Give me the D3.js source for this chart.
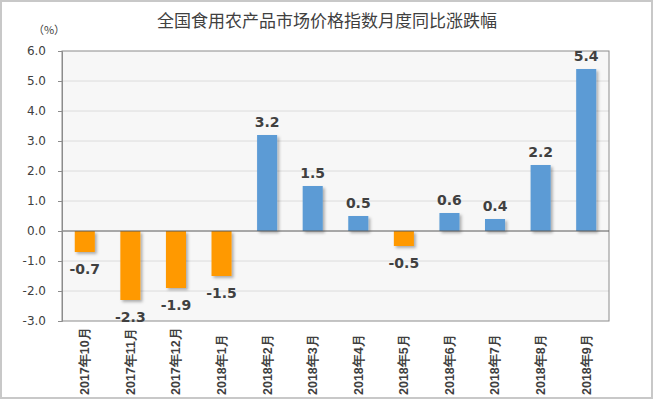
<!DOCTYPE html>
<html>
<head>
<meta charset="utf-8">
<script src="https://cdn.jsdelivr.net/npm/d3@7"></script>
<style>
  body { margin: 0; background: #fff; }
  svg { display: block; font-family: "Noto Sans CJK SC", "DejaVu Sans", sans-serif; }
</style>
</head>
<body>
<div id="chart"></div>
<script>
// data
const months = ['2017年10月', '2017年11月', '2017年12月', '2018年1月', '2018年2月', '2018年3月',
  '2018年4月', '2018年5月', '2018年6月', '2018年7月', '2018年8月', '2018年9月'];
const changes = [-0.7, -2.3, -1.9, -1.5, 3.2, 1.5, 0.5, -0.5, 0.6, 0.4, 2.2, 5.4];
const yTicks = [-3, -2, -1, 0, 1, 2, 3, 4, 5, 6];

const width = 653, height = 399;
const margins = {top: 51, right: 44, bottom: 78, left: 62};
const chartWidth = width - margins.left - margins.right;
const chartHeight = height - margins.top - margins.bottom;

const svg = d3.select('#chart').append('svg')
  .attr('width', width)
  .attr('height', height);

// outer frame
svg.append('rect')
  .attr('x', 1).attr('y', 1)
  .attr('width', width - 2).attr('height', height - 2)
  .attr('fill', '#fff')
  .attr('stroke', '#c8c8c8')
  .attr('stroke-width', 2);

svg.append('text')
  .attr('x', 327).attr('y', 27)
  .attr('text-anchor', 'middle')
  .attr('font-size', 17)
  .attr('fill', '#404040')
  .text('全国食用农产品市场价格指数月度同比涨跌幅');

svg.append('text')
  .attr('x', 49).attr('y', 34)
  .attr('text-anchor', 'middle')
  .attr('font-size', 11)
  .attr('fill', '#404040')
  .text('（%）');

const defs = svg.append('defs');
const shadow = defs.append('filter').attr('id', 'shadow')
  .attr('x', '-20%').attr('y', '-20%').attr('width', '150%').attr('height', '150%');
shadow.append('feDropShadow')
  .attr('dx', 2).attr('dy', 2).attr('stdDeviation', 1.5)
  .attr('flood-color', '#000').attr('flood-opacity', 0.3);

const chart = svg.append('g')
  .attr('transform', `translate(${margins.left}, ${margins.top})`);

const xScale = d3.scaleBand()
  .domain(months)
  .range([0, chartWidth])
  .paddingInner(0.56)
  .paddingOuter(0.28);

const yScale = d3.scaleLinear()
  .domain([-3, 6])
  .range([chartHeight, 0]);

// plot area
chart.append('rect')
  .attr('width', chartWidth)
  .attr('height', chartHeight)
  .attr('fill', '#f7f7f7');

// grid
chart.append('g')
  .selectAll('line')
  .data(yTicks.filter(d => d !== 0 && d !== -3 && d !== 6))
  .enter()
  .append('line')
  .attr('x1', 0).attr('x2', chartWidth)
  .attr('y1', d => yScale(d)).attr('y2', d => yScale(d))
  .attr('stroke', '#dcdcdc')
  .attr('stroke-width', 1);

// plot border
chart.append('rect')
  .attr('width', chartWidth)
  .attr('height', chartHeight)
  .attr('fill', 'none')
  .attr('stroke', '#8c8c8c')
  .attr('stroke-width', 1);

// bars
chart.selectAll('.bar')
  .data(months)
  .enter()
  .append('rect')
  .attr('class', 'bar')
  .attr('x', d => xScale(d))
  .attr('width', xScale.bandwidth())
  .attr('y', (d, i) => yScale(Math.max(0, changes[i])))
  .attr('height', (d, i) => Math.abs(yScale(changes[i]) - yScale(0)))
  .attr('fill', (d, i) => changes[i] >= 0 ? '#5b9bd5' : '#ff9900')
  .attr('filter', 'url(#shadow)');

// zero line
chart.append('line')
  .attr('x1', 0).attr('x2', chartWidth)
  .attr('y1', yScale(0)).attr('y2', yScale(0))
  .attr('stroke', '#595959')
  .attr('stroke-width', 1);

// value labels
chart.selectAll('.value')
  .data(months)
  .enter()
  .append('text')
  .attr('class', 'value')
  .attr('x', d => xScale(d) + xScale.bandwidth() / 2)
  .attr('y', (d, i) => changes[i] >= 0 ? yScale(changes[i]) - 8 : yScale(changes[i]) + 22)
  .attr('text-anchor', 'middle')
  .attr('font-family', '"DejaVu Sans", sans-serif')
  .attr('font-weight', 'bold')
  .attr('font-size', 14)
  .attr('fill', '#404040')
  .text((d, i) => changes[i].toFixed(1));

// y axis
const yAxis = chart.append('g')
  .attr('class', 'y-axis')
  .call(d3.axisLeft(yScale).tickValues(yTicks).tickSize(4).tickFormat(d3.format('.1f')));
yAxis.select('.domain').attr('stroke', '#8c8c8c');
yAxis.selectAll('.tick line').attr('stroke', '#8c8c8c');
yAxis.selectAll('.tick text')
  .attr('x', -16)
  .attr('font-family', '"DejaVu Sans", sans-serif')
  .attr('font-size', 12)
  .attr('fill', '#404040')
  .text(d => d3.format('.1f')(d).replace('−', '-'));

// x axis labels (rotated)
const xAxis = chart.append('g')
  .attr('class', 'x-axis')
  .attr('transform', `translate(0, ${chartHeight})`)
  .call(d3.axisBottom(xScale).tickSize(0));
xAxis.select('.domain').remove();
xAxis.selectAll('.tick text')
  .attr('transform', 'rotate(-90)')
  .attr('x', -74)
  .attr('y', 0)
  .attr('dy', '0.35em')
  .attr('text-anchor', 'start')
  .attr('font-weight', 'bold')
  .attr('font-size', 12.5)
  .attr('fill', '#404040');
</script>
</body>
</html>
